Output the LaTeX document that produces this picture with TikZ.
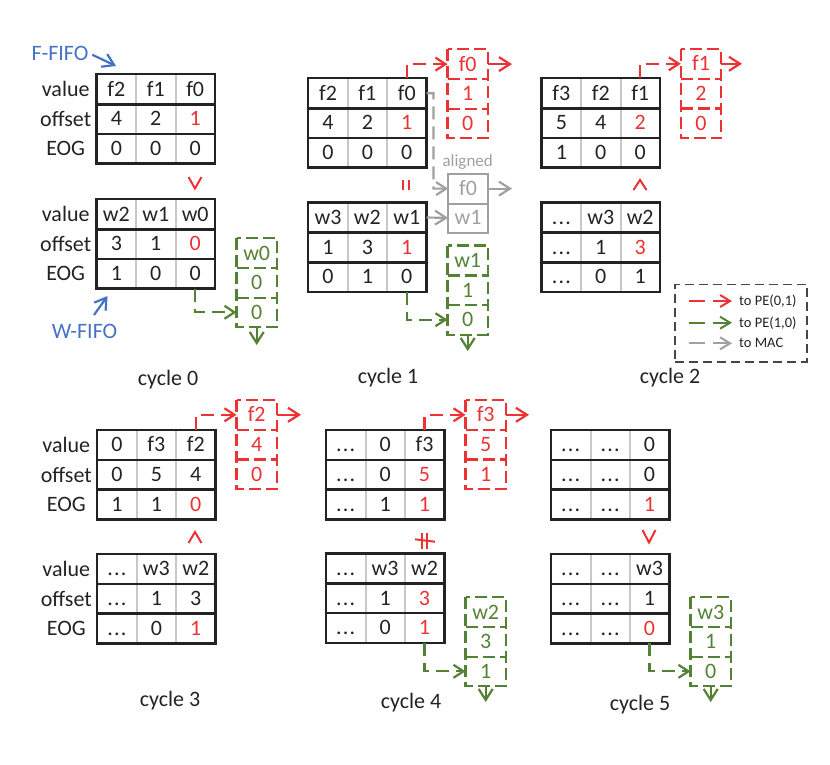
\documentclass[tikz,border=0pt]{standalone}
\usepackage{fontspec}
\setmainfont{Carlito}
\usetikzlibrary{arrows.meta}
\definecolor{cred}{RGB}{236,50,50}
\definecolor{cgreen}{RGB}{84,130,53}
\definecolor{cblue}{RGB}{68,114,196}
\definecolor{cgray}{RGB}{160,160,160}
\definecolor{ctext}{RGB}{35,35,35}
\definecolor{cgrid}{RGB}{200,200,200}
\definecolor{clegend}{RGB}{70,70,70}
\newcommand\R[1]{\textcolor{cred}{#1}}
\newcommand\dd{.\kern1.2pt.\kern1.2pt.}
% name, x, y, row1, row2, row3
\newcommand\fifotbl[6]{%
  \foreach \r/\a/\b/\c in {1/#4,2/#5,3/#6}{
    \node[cell] (#1-\r-1) at ({#2+19.7},{#3+(\r-0.5)*29.7}) {\a};
    \node[cell] (#1-\r-2) at ({#2+59.1},{#3+(\r-0.5)*29.7}) {\b};
    \node[cell] (#1-\r-3) at ({#2+98.5},{#3+(\r-0.5)*29.7}) {\c};
  }
  \draw[griddiv] (#1-1-1.north east) -- (#1-3-1.south east);
  \draw[griddiv] (#1-1-2.north east) -- (#1-3-2.south east);
  \draw[rowdiv] (#1-1-1.south west) -- (#1-1-3.south east);
  \draw[rowdiv] (#1-2-1.south west) -- (#1-2-3.south east);
  \draw[rowdiv] (#1-1-1.north west) rectangle (#1-3-3.south east);
}
% name, table x, table y
\newcommand\rowlabels[3]{%
  \node (#1-lv) at ({#2-31},{#3+14.85}) {value};
  \node (#1-lo) at ({#2-31},{#3+44.55}) {offset};
  \node (#1-le) at ({#2-31},{#3+74.25}) {EOG};
}
% name, x, y, colour, a, b, c
\newcommand\outbox[7]{%
  \node[ocell,text=#4] (#1-1) at ({#2+20},{#3+14.8}) {#5};
  \node[ocell,text=#4] (#1-2) at ({#2+20},{#3+44.4}) {#6};
  \node[ocell,text=#4] (#1-3) at ({#2+20},{#3+74}) {#7};
  \draw[#4,dbox] (#1-1.north west) rectangle (#1-3.south east);
  \draw[#4,dbox] (#1-1.south west) -- (#1-1.south east);
  \draw[#4,dbox] (#1-2.south west) -- (#1-2.south east);
}
\begin{document}
\begin{tikzpicture}[x=1pt,y=-1pt,
  every node/.style={font=\fontsize{22}{26}\selectfont, text=ctext, inner sep=0pt},
  cell/.style={minimum width=39.4pt, minimum height=29.7pt, text height=14pt, text depth=0pt},
  ocell/.style={minimum width=40pt, minimum height=29.6pt, text height=14pt, text depth=0pt},
  griddiv/.style={draw=cgrid, line width=1.8pt},
  rowdiv/.style={draw=ctext, line width=2.6pt},
  dbox/.style={line width=2.2pt, dash pattern=on 12pt off 5pt},
  conn/.style={line width=2.2pt, dash pattern=on 13pt off 7pt, -{Straight Barb[length=10pt,width=13pt]}},
  arrsolid/.style={line width=2.2pt, -{Straight Barb[length=11pt,width=14pt]}},
  cmp/.style={draw=cred, line width=2pt},
  legtext/.style={font=\fontsize{14.5}{17}\selectfont, anchor=west},
]
\useasboundingbox (0,0) rectangle (830,764);

% ---------- cycle 0 ----------
\node[text=cblue] (ffifo) at (60,53) {F-FIFO};
\coordinate (ffifot) at (116,66);
\draw[cblue, arrsolid, shorten <=4pt] (ffifo.east) -- (ffifot);
\fifotbl{c0F}{96.7}{74.3}{f2/f1/f0}{4/2/\R{1}}{0/0/0}
\rowlabels{c0F}{96.7}{74.3}
\draw[cmp] (188.5,177) -- (195,188.5) -- (201.5,177);
\fifotbl{c0W}{96.7}{199.3}{w2/w1/w0}{3/1/\R{0}}{1/0/0}
\rowlabels{c0W}{96.7}{199.3}
\node[text=cblue] (wfifo) at (84.5,331) {W-FIFO};
\coordinate (wfifos) at (94,315);
\coordinate (wfifot) at (107.5,296);
\draw[cblue, arrsolid] (wfifos) -- (wfifot);
\outbox{c0g}{236.7}{238.3}{cgreen}{w0}{0}{0}
\draw[conn,cgreen] (c0W-3-3.south) -- (c0W-3-3.south |- c0g-3.west) -- (c0g-3.west);
\coordinate (c0gd) at (256.7,345);
\draw[arrsolid,cgreen] (c0g-3.south) -- (c0gd);
\node (cyc0) at (168,380) {cycle 0};

% ---------- cycle 1 ----------
\fifotbl{c1F}{308.3}{78.3}{f2/f1/f0}{4/2/\R{1}}{0/0/0}
\draw[cmp] (402.7,180) -- (402.7,190);
\draw[cmp] (408.7,180) -- (408.7,190);
\fifotbl{c1W}{308.3}{202.7}{w3/w2/w1}{1/3/\R{1}}{0/1/0}
\outbox{c1o}{447.7}{49.3}{cred}{f0}{1}{0}
\draw[conn,cred] (c1F-1-3.north) -- (c1F-1-3.north |- c1o-1.west) -- (c1o-1.west);
\coordinate (c1oe) at (512,64.1);
\draw[arrsolid,cred] (c1o-1.east) -- (c1oe);
\node[text=cgray, font=\fontsize{17}{20}\selectfont] (c1al) at (467.7,162) {aligned};
\node[cell, text=cgray] (c1a-1) at (468,188.6) {f0};
\node[cell, text=cgray] (c1a-2) at (468,217.8) {w1};
\draw[draw=cgray, line width=2pt] (c1a-1.north west) rectangle (c1a-2.south east);
\draw[draw=cgray, line width=2pt] (c1a-1.south west) -- (c1a-1.south east);
\coordinate (c1ak) at (433.5,93.2);
\draw[conn,cgray] (c1F-1-3.east) -- (c1ak) |- (c1a-1.west);
\draw[arrsolid,cgray] (c1W-1-3.east) -- (c1a-2.west);
\coordinate (c1ae) at (512,188.6);
\draw[arrsolid,cgray] (c1a-1.east) -- (c1ae);
\outbox{c1g}{447.7}{245.7}{cgreen}{w1}{1}{0}
\draw[conn,cgreen] (c1W-3-3.south) -- (c1W-3-3.south |- c1g-3.west) -- (c1g-3.west);
\coordinate (c1gd) at (467.7,351);
\draw[arrsolid,cgreen] (c1g-3.south) -- (c1gd);
\node (cyc1) at (388,378) {cycle 1};

% ---------- cycle 2 ----------
\fifotbl{c2F}{541.7}{78.3}{f3/f2/f1}{5/4/\R{2}}{1/0/0}
\draw[cmp] (633.5,190) -- (640,180) -- (646.5,190);
\fifotbl{c2W}{541.7}{202.7}{\dd/w3/w2}{\dd/1/\R{3}}{\dd/0/1}
\outbox{c2o}{681}{49}{cred}{f1}{2}{0}
\draw[conn,cred] (c2F-1-3.north) -- (c2F-1-3.north |- c2o-1.west) -- (c2o-1.west);
\coordinate (c2oe) at (742,63.8);
\draw[arrsolid,cred] (c2o-1.east) -- (c2oe);
\node (cyc2) at (670,378) {cycle 2};

% ---------- legend ----------
\node[draw=clegend, line width=1.6pt, dash pattern=on 9pt off 5pt, minimum width=131.7pt, minimum height=77.4pt] (legend) at (740.85,323) {};
\coordinate (lr1) at (689,301); \coordinate (lr2) at (732,301);
\coordinate (lg1) at (689,322.7); \coordinate (lg2) at (732,322.7);
\coordinate (lm1) at (689,343.3); \coordinate (lm2) at (732,343.3);
\draw[cred, line width=2pt, dash pattern=on 16pt off 8pt, -{Straight Barb[length=10pt,width=12pt]}] (lr1) -- (lr2);
\draw[cgreen, line width=2pt, dash pattern=on 16pt off 8pt, -{Straight Barb[length=10pt,width=12pt]}] (lg1) -- (lg2);
\draw[cgray, line width=2pt, dash pattern=on 16pt off 8pt, -{Straight Barb[length=10pt,width=12pt]}] (lm1) -- (lm2);
\node[legtext] (ltr) at (739,301) {to PE(0,1)};
\node[legtext] (ltg) at (739,322.7) {to PE(1,0)};
\node[legtext] (ltm) at (739,343.3) {to MAC};

% ---------- cycle 3 ----------
\fifotbl{c3F}{97.3}{430}{0/f3/f2}{0/5/4}{1/1/\R{0}}
\rowlabels{c3F}{97.3}{430}
\draw[cmp] (188.5,543) -- (195,532) -- (201.5,543);
\fifotbl{c3W}{97.3}{554}{\dd/w3/w2}{\dd/1/3}{\dd/0/\R{1}}
\rowlabels{c3W}{97.3}{554}
\outbox{c3o}{236.7}{400}{cred}{f2}{4}{0}
\draw[conn,cred] (c3F-1-3.north) -- (c3F-1-3.north |- c3o-1.west) -- (c3o-1.west);
\coordinate (c3oe) at (301,414.8);
\draw[arrsolid,cred] (c3o-1.east) -- (c3oe);
\node (cyc3) at (170,701) {cycle 3};

% ---------- cycle 4 ----------
\fifotbl{c4F}{326}{430}{\dd/0/f3}{\dd/0/\R{5}}{\dd/1/\R{1}}
\draw[cmp] (421.7,533) -- (421.7,548.5);
\draw[cmp] (427.2,533) -- (427.2,548.5);
\draw[cmp] (415,539.3) -- (435,541.7);
\fifotbl{c4W}{326}{553.5}{\dd/w3/w2}{\dd/1/\R{3}}{\dd/0/\R{1}}
\outbox{c4o}{465.7}{400}{cred}{f3}{5}{1}
\draw[conn,cred] (c4F-1-3.north) -- (c4F-1-3.north |- c4o-1.west) -- (c4o-1.west);
\coordinate (c4oe) at (529,414.8);
\draw[arrsolid,cred] (c4o-1.east) -- (c4oe);
\outbox{c4g}{465.7}{597.3}{cgreen}{w2}{3}{1}
\draw[conn,cgreen] (c4W-3-3.south) -- (c4W-3-3.south |- c4g-3.west) -- (c4g-3.west);
\coordinate (c4gd) at (485.7,702);
\draw[arrsolid,cgreen] (c4g-3.south) -- (c4gd);
\node (cyc4) at (411,703) {cycle 4};

% ---------- cycle 5 ----------
\fifotbl{c5F}{551}{430}{\dd/\dd/0}{\dd/\dd/0}{\dd/\dd/\R{1}}
\draw[cmp] (642.5,530) -- (649,542.5) -- (655.5,530);
\fifotbl{c5W}{551}{554}{\dd/\dd/w3}{\dd/\dd/1}{\dd/\dd/\R{0}}
\outbox{c5g}{690.7}{597.3}{cgreen}{w3}{1}{0}
\draw[conn,cgreen] (c5W-3-3.south) -- (c5W-3-3.south |- c5g-3.west) -- (c5g-3.west);
\coordinate (c5gd) at (710.7,702);
\draw[arrsolid,cgreen] (c5g-3.south) -- (c5gd);
\node (cyc5) at (640,705) {cycle 5};
\end{tikzpicture}
\end{document}
